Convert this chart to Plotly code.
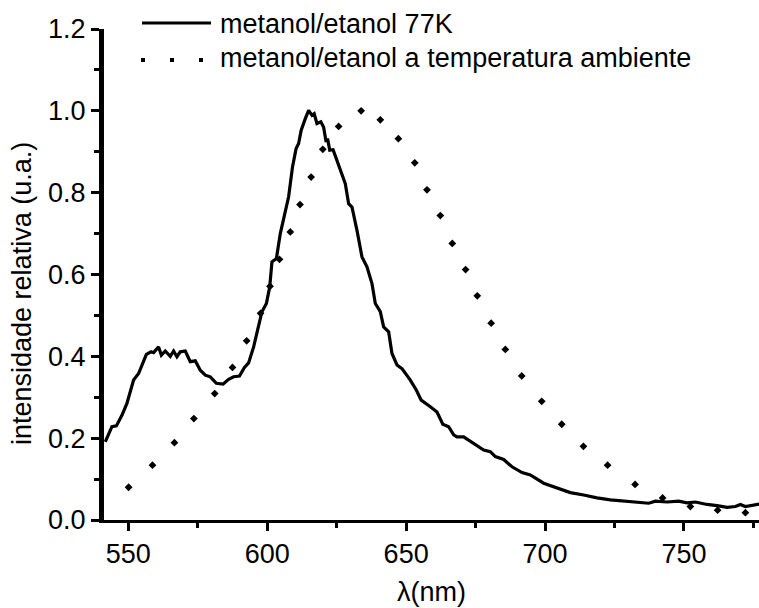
import plotly.graph_objects as go

# --- data ---
wl_77k = [541.7, 544.1, 545.7, 547.7, 549.5, 551.9, 553.7, 556.5, 558.2, 559.1, 560.9, 561.9, 563.3,
          565.1, 566.3, 567.5, 568.7, 570.5, 572.3, 574.1, 575.9, 577.7, 579.5, 581.7, 584.1, 586.1,
          587.9, 590.0, 591.8, 593.3, 595.1, 596.9, 598.1, 599.7, 600.9, 601.7, 603.3, 604.7, 606.2,
          607.7, 609.1, 610.4, 611.3, 612.2, 613.7, 614.9, 616.1, 616.9, 617.9, 619.3, 620.3, 621.2,
          621.7, 622.5, 623.7, 625.1, 626.3, 628.1, 629.3, 630.5, 632.3, 634.1, 635.9, 637.7, 638.9,
          640.7, 641.9, 643.7, 644.9, 646.7, 648.5, 651.5, 653.7, 655.4, 658.7, 661.1, 663.2, 665.3,
          667.1, 668.3, 670.7, 674.3, 677.9, 680.3, 682.1, 685.1, 688.1, 691.7, 694.7, 699.5, 704.3,
          709.1, 713.9, 718.7, 723.5, 728.3, 733.1, 737.3, 739.7, 743.9, 748.1, 751.1, 754.1, 758.3,
          761.9, 765.5, 768.5, 770.3, 772.1, 775.1, 777.1]
int_77k = [0.191, 0.228, 0.230, 0.256, 0.285, 0.342, 0.358, 0.405, 0.411, 0.409, 0.423, 0.403, 0.413,
           0.400, 0.413, 0.399, 0.411, 0.413, 0.387, 0.389, 0.366, 0.354, 0.350, 0.334, 0.332, 0.344,
           0.350, 0.352, 0.373, 0.384, 0.423, 0.472, 0.509, 0.529, 0.570, 0.631, 0.639, 0.700, 0.749,
           0.790, 0.863, 0.908, 0.920, 0.952, 0.981, 1.001, 0.989, 0.993, 0.969, 0.973, 0.960, 0.924,
           0.932, 0.904, 0.905, 0.879, 0.861, 0.822, 0.773, 0.765, 0.708, 0.643, 0.619, 0.578, 0.529,
           0.509, 0.472, 0.460, 0.407, 0.379, 0.370, 0.342, 0.317, 0.293, 0.277, 0.264, 0.234, 0.228,
           0.208, 0.203, 0.203, 0.187, 0.171, 0.167, 0.155, 0.148, 0.130, 0.116, 0.110, 0.090, 0.079,
           0.067, 0.061, 0.054, 0.049, 0.046, 0.043, 0.041, 0.046, 0.044, 0.046, 0.042, 0.044, 0.038,
           0.035, 0.031, 0.033, 0.038, 0.033, 0.037, 0.039]

wl_amb = [550.1, 558.7, 566.6, 573.6, 581.1, 587.5, 592.6, 597.6, 601.0, 604.4, 608.3, 611.8, 615.8,
          620.0, 625.7, 633.8, 640.7, 647.2, 653.1, 657.5, 662.3, 666.6, 671.4, 675.6, 680.6, 685.7,
          691.6, 698.8, 706.0, 713.8, 722.5, 732.4, 742.3, 752.3, 762.1, 772.1]
int_amb = [0.080, 0.134, 0.189, 0.248, 0.309, 0.373, 0.438, 0.505, 0.571, 0.637, 0.704, 0.771, 0.838,
           0.906, 0.962, 1.000, 0.978, 0.932, 0.873, 0.807, 0.744, 0.676, 0.612, 0.548, 0.481, 0.417,
           0.352, 0.290, 0.234, 0.180, 0.134, 0.087, 0.054, 0.033, 0.024, 0.018]

x_ticks = [550, 600, 650, 700, 750]
y_ticks = [0.0, 0.2, 0.4, 0.6, 0.8, 1.0, 1.2]
y_labels = ["0.0", "0.2", "0.4", "0.6", "0.8", "1.0", "1.2"]
legend_names = ["metanol/etanol 77K", "metanol/etanol a temperatura ambiente"]
x_title = "λ(nm)"
y_title = "intensidade relativa (u.a.)"

W, H = 759, 608
L, R, T, B = 104, 0, 29, 88
FONT = "Liberation Sans, Arial, sans-serif"
FS = 27


def px(x):
    return (x - L) / (W - L - R)


def py(y):
    return (H - B - y) / (H - T - B)


fig = go.Figure()
fig.add_trace(go.Scatter(x=wl_amb, y=int_amb, mode="markers", name=legend_names[1],
                         marker=dict(symbol="diamond", size=6, color="black"), showlegend=False))
fig.add_trace(go.Scatter(x=wl_77k, y=int_77k, mode="lines", name=legend_names[0],
                         line=dict(color="black", width=3.2), showlegend=False))

# manual legend
fig.add_shape(type="line", xref="paper", yref="paper", x0=px(142), x1=px(211), y0=py(23), y1=py(23),
              line=dict(color="black", width=3))
fig.add_shape(type="line", xref="paper", yref="paper", x0=px(141), x1=px(204), y0=py(60), y1=py(60),
              line=dict(color="black", width=4, dash="4px,25px"))
fig.add_annotation(text=legend_names[0], xref="paper", yref="paper", x=px(218), y=py(24),
                   xanchor="left", yanchor="middle", showarrow=False,
                   font=dict(family=FONT, size=FS, color="black"))
fig.add_annotation(text=legend_names[1], xref="paper", yref="paper", x=px(218), y=py(58),
                   xanchor="left", yanchor="middle", showarrow=False,
                   font=dict(family=FONT, size=FS, color="black"))

# axis titles
fig.add_annotation(text=x_title, xref="paper", yref="paper", x=px(431), y=py(592),
                   xanchor="center", yanchor="middle", showarrow=False,
                   font=dict(family=FONT, size=FS, color="black"))
fig.add_annotation(text=y_title, xref="paper", yref="paper", x=px(22), y=py(294),
                   xanchor="center", yanchor="middle", showarrow=False, textangle=-90,
                   font=dict(family=FONT, size=FS, color="black"))

fig.update_layout(
    width=W, height=H, autosize=False,
    margin=dict(l=L, r=R, t=T, b=B, pad=0),
    paper_bgcolor="white", plot_bgcolor="white",
    font=dict(family=FONT, size=FS, color="black"),
    xaxis=dict(range=[541.25, 777.0], tickvals=x_ticks, ticks="outside", ticklen=8, tickwidth=3,
               tickcolor="black", showline=True, linecolor="black", linewidth=3, showgrid=False,
               zeroline=False, tickfont=dict(family=FONT, size=FS),
               minor=dict(dtick=25, tick0=550, ticks="outside", ticklen=5, tickwidth=3,
                          tickcolor="black", showgrid=False)),
    yaxis=dict(range=[0, 1.2], tickvals=y_ticks, ticktext=y_labels, ticks="outside", ticklen=8,
               tickwidth=3, tickcolor="black", showline=True, linecolor="black", linewidth=5,
               showgrid=False, zeroline=False, tickfont=dict(family=FONT, size=FS),
               minor=dict(dtick=0.1, tick0=0, ticks="outside", ticklen=5, tickwidth=3,
                          tickcolor="black", showgrid=False)),
)

fig.write_html("out.html")
